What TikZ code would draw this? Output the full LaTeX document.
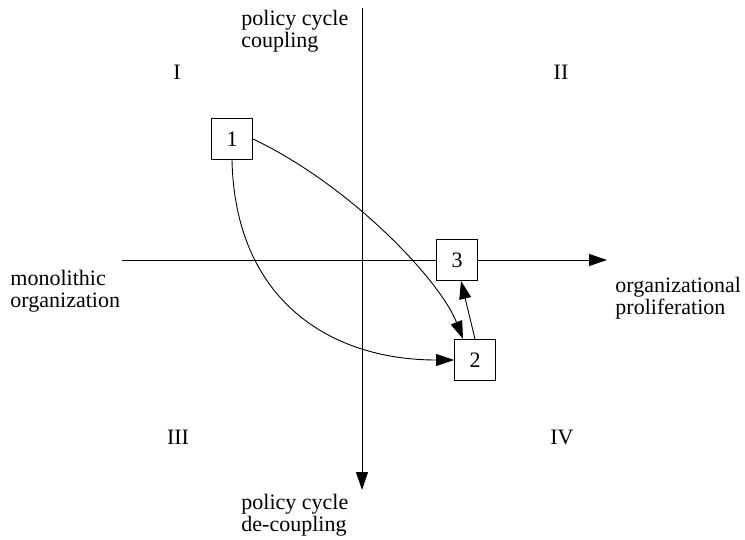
\documentclass[tikz,border=0pt]{standalone}
\usepackage{fontspec}
\setmainfont{Liberation Serif}
\usetikzlibrary{arrows.meta}

\begin{document}
\begin{tikzpicture}[x=1pt, y=-1pt,
    every node/.style={font=\fontsize{22}{22}\selectfont},
    box/.style={draw, fill=white, minimum size=41pt, inner sep=0pt},
    lbl/.style={align=left, anchor=north west, inner sep=0pt},
    tip/.style={-{Triangle[length=18pt,width=12pt]}},
    line width=0.9pt]
  \useasboundingbox (0,0) rectangle (745,540);

  % axes
  \coordinate (xl) at (122,260);
  \coordinate (xr) at (607,260);
  \coordinate (yt) at (362,8);
  \coordinate (yb) at (362,490);
  \draw[tip] (xl) -- (xr);
  \draw[tip] (yt) -- (yb);

  \node[lbl] (ytop) at (241,10) {policy cycle\\coupling};
  \node[lbl] (ybot) at (241,494) {policy cycle\\de-coupling};
  \node[lbl] (xleft) at (10,270) {monolithic\\organization};
  \node[lbl] (xright) at (615,277) {organizational\\proliferation};

  \node (q1) at (177,72) {I};
  \node (q2) at (561,72) {II};
  \node (q3) at (178,437) {III};
  \node (q4) at (562,437) {IV};

  \node[box] (n1) at (232,139) {1};
  \node[box] (n3) at (457,260) {3};
  \node[box] (n2) at (475,360) {2};

  \draw[tip] (n1.east) .. controls (350,185) and (440,280) .. ([xshift=-12pt]n2.north);
  \draw[tip] (n1.south) .. controls (235,300) and (330,360) .. (n2.west);
  \draw[tip] (n2.north) -- ([xshift=4pt]n3.south);
\end{tikzpicture}
\end{document}
